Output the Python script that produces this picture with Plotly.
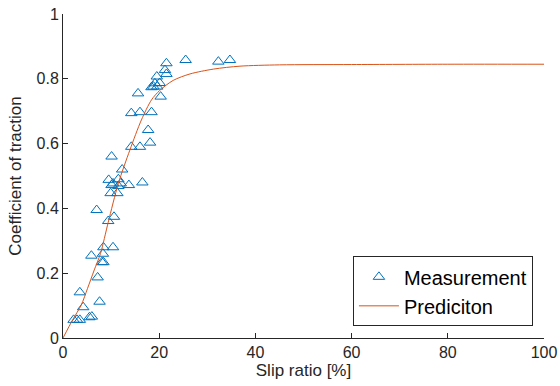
import plotly.graph_objects as go

# Measurement points (slip ratio %, coefficient of traction)
meas_x = [2.2, 2.9, 3.5, 3.5, 4.2, 5.5, 6.0, 5.9, 7.2, 7.6, 7.0, 8.1, 8.4, 8.3, 8.4, 10.4, 9.4, 10.6,
          9.9, 11.3, 9.5, 10.4, 11.5, 12.0, 10.1, 11.5, 13.7, 16.5, 12.3, 10.1,
          14.2, 16.0, 18.1, 17.7, 14.2, 16.0, 18.4, 15.6, 20.3, 18.4, 18.8, 19.6, 19.1, 20.1,
          19.5, 21.2, 21.5, 21.5, 25.5, 32.3, 34.7]
meas_y = [0.056, 0.056, 0.056, 0.141, 0.095, 0.064, 0.066, 0.254, 0.187, 0.112, 0.395, 0.234, 0.234, 0.26, 0.28, 0.28, 0.361, 0.374,
          0.447, 0.447, 0.488, 0.477, 0.49, 0.477, 0.472, 0.469, 0.472, 0.48, 0.52, 0.56,
          0.59, 0.59, 0.603, 0.642, 0.694, 0.697, 0.697, 0.755, 0.745, 0.774, 0.776, 0.776, 0.786, 0.787,
          0.807, 0.827, 0.815, 0.848, 0.858, 0.853, 0.858]

# Prediction curve
pred_x = [0, 2.0, 3.8, 5.1, 6.5, 7.8, 9.4, 11.5, 13.9, 16.3, 18.4, 20.1, 22.9, 26.4, 31.3, 36.8, 45, 60, 80, 100]
pred_y = [0, 0.056, 0.102, 0.153, 0.21, 0.261, 0.357, 0.477, 0.58, 0.673, 0.735, 0.764, 0.795, 0.815, 0.830, 0.839, 0.843, 0.844, 0.845, 0.845]

x_ticks = [0, 20, 40, 60, 80, 100]
y_ticks = [0, 0.2, 0.4, 0.6, 0.8, 1]
y_ticklabels = ["0", "0.2", "0.4", "0.6", "0.8", "1"]

FONT = "Liberation Sans, Arial, sans-serif"

fig = go.Figure()
fig.add_trace(go.Scatter(
    x=meas_x, y=meas_y, mode="markers", name="Measurement",
    marker=dict(symbol="triangle-up-open", size=10, color="#0072BD", line=dict(width=1))
))
fig.add_trace(go.Scatter(
    x=pred_x, y=pred_y, mode="lines", name="Prediciton",
    line=dict(color="#D95319", width=1, shape="spline", smoothing=0.8)
))

axis_common = dict(
    showgrid=False, zeroline=False, showline=True, linecolor="#262626", linewidth=1,
    ticks="inside", ticklen=5, tickcolor="#262626",
    tickfont=dict(family=FONT, size=16, color="#262626"),
    mirror=False, automargin=False,
)

fig.update_layout(
    width=560, height=386,
    margin=dict(l=63, r=16, t=14, b=48, autoexpand=False),
    paper_bgcolor="white", plot_bgcolor="white",
    xaxis=dict(range=[0, 100], tickvals=x_ticks,
               title=dict(text="Slip ratio [%]", standoff=2,
                          font=dict(family=FONT, size=17, color="#262626")),
               **axis_common),
    yaxis=dict(range=[0, 1], tickvals=y_ticks, ticktext=y_ticklabels,
               title=dict(text="Coefficient of traction", standoff=10,
                          font=dict(family=FONT, size=17, color="#262626")),
               **axis_common),
    legend=dict(x=0.977, y=0.036, xanchor="right", yanchor="bottom",
                bgcolor="white", bordercolor="#262626", borderwidth=1,
                font=dict(family=FONT, size=20, color="black"),
                itemwidth=40, tracegroupgap=0),
    showlegend=True,
)

fig.write_html("out.html",
               config={"displayModeBar": False},
               post_script="document.body.style.margin='0px';document.body.style.overflow='hidden';")
